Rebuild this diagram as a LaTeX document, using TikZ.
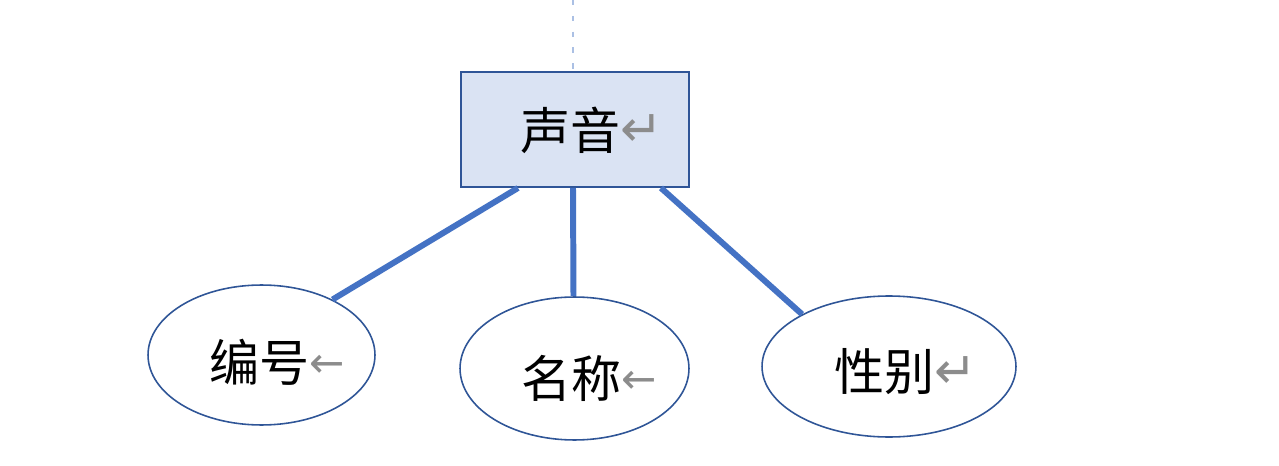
\documentclass[tikz,border=0pt]{standalone}
\usepackage{fontspec}
\newfontfamily\cjk{Noto Sans CJK SC}
\newfontfamily\symfont{DejaVu Sans}
\usetikzlibrary{shapes.geometric}
\definecolor{boxfill}{HTML}{DAE3F3}
\definecolor{boxline}{HTML}{2F5597}
\definecolor{conncol}{HTML}{4472C4}
\definecolor{markgray}{HTML}{8C8C8C}
\tikzset{
  entitybox/.style={draw=boxline, fill=boxfill, line width=1.1pt, minimum width=4.56cm, minimum height=2.3cm, inner sep=0pt},
  attrell/.style={draw=boxline, ellipse, line width=0.9pt, fill=white, inner sep=0pt},
  conn/.style={draw=conncol, line width=3.4pt},
  lbl/.style={inner sep=0pt, font=\fontsize{28.5}{30}\selectfont\cjk}
}
\newcommand{\myretmark}{\raisebox{1.5pt}{\color{markgray}\symfont\fontsize{29}{30}\selectfont ↵}}
\newcommand{\myleftmark}{\raisebox{2pt}{\color{markgray}\symfont\fontsize{24}{30}\selectfont ←}}
\begin{document}
\begin{tikzpicture}[x=0.02cm,y=-0.02cm]
\useasboundingbox[fill=white] (0,0) rectangle (1279,466);
\node[entitybox] (r) at (575,129.5) {};
\node[attrell, minimum width=4.54cm, minimum height=2.8cm] (e1) at (261.5,355) {};
\node[attrell, minimum width=4.58cm, minimum height=2.86cm] (e2) at (574.5,368.5) {};
\node[attrell, minimum width=5.08cm, minimum height=2.82cm] (e3) at (889,366.5) {};
\coordinate (top) at (573,0);
\draw[draw=conncol!45, line width=0.8pt, dash pattern=on 3pt off 6pt] (top) -- (top |- r.north);
\node[lbl] (t0) at (592,130) {声音\myretmark};
\node[lbl] (t1) at (277,362) {编号\myleftmark};
\node[lbl] (t2) at (589,378) {名称\myleftmark};
\node[lbl] (t3) at (906,372) {性别\myretmark};
\draw[conn] ([xshift=-1.14cm]r.south) -- (e1.38);
\draw[conn] ([xshift=-0.04cm]r.south) -- ([xshift=-0.02cm]e2.north);
\draw[conn] ([xshift=1.72cm]r.south) -- (e3.149);
\end{tikzpicture}
\end{document}
